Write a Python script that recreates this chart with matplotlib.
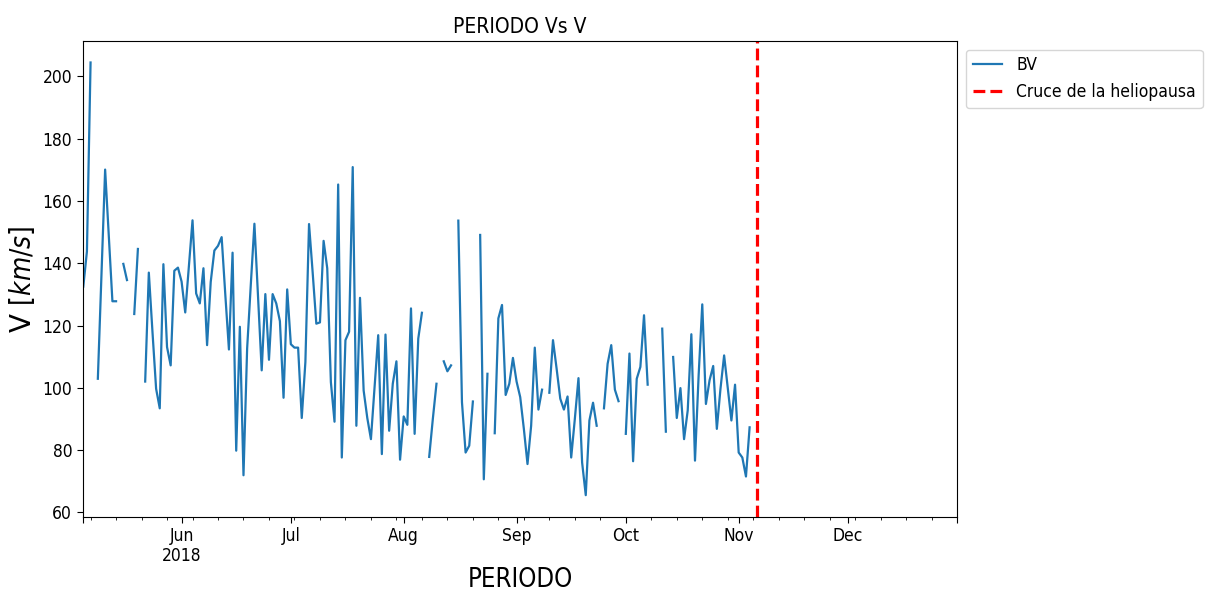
#!/usr/bin/python

import pandas as pd
import numpy as np
import matplotlib
matplotlib.use('Agg')
import matplotlib.pyplot as plt

nan = np.nan

START = '2018-05-05'
END = '2018-12-31'
HELIOPAUSA = '2018-11-06'

# velocidad diaria BV [km/s], nan = dia sin dato
bv = [132.5, 143.8, 204.5, nan, 102.9, 137, 170.1, 149, 127.8, 127.8,
      nan, 139.8, 134.6, nan, 123.7, 144.6, nan, 102, 137, 118,
      99.7, 93.4, 139.7, 113.1, 107.2, 137.6, 138.6, 134.1, 124.2, 139,
      153.8, 130.3, 127.1, 138.4, 113.7, 134, 144.1, 145.6, 148.4, 130,
      112.3, 143.4, 79.8, 119.6, 71.9, 112.6, 133, 152.7, 129, 105.6,
      130.1, 109, 130.1, 127.1, 121.4, 96.8, 131.6, 114, 112.9, 112.9,
      90.3, 108.3, 152.6, 137, 120.6, 121, 147.2, 138.4, 101.8, 89.1,
      165.3, 77.6, 115.3, 118, 170.9, 87.8, 128.9, 99.1, 90.3, 83.5,
      100, 116.9, 78.7, 117.1, 86.2, 101.3, 108.5, 76.9, 90.8, 88.1,
      125.5, 85.2, 115.8, 124.1, nan, 77.8, 90, 101.3, nan, 108.5,
      105.3, 107.2, nan, 153.7, 95.4, 79.2, 81.4, 95.6, nan, 149.1,
      70.6, 104.5, nan, 85.4, 122.3, 126.6, 97.7, 101.3, 109.6, 102,
      97, 86.8, 75.5, 87.8, 112.9, 93, 99.4, nan, 98.4, 115.3,
      106.1, 96.5, 93, 97.2, 77.6, 90, 103.1, 76, 65.5, 89.5,
      95.2, 87.8, nan, 93.4, 107.7, 113.7, 99.4, 95.7, nan, 85.2,
      111, 76.4, 102.9, 106.7, 123.3, 101, nan, nan, nan, 119,
      85.9, nan, 109.9, 90.3, 99.9, 83.5, 92.7, 117.2, 76.6, 104,
      126.8, 94.8, 102.4, 107, 86.8, 99.7, 110.4, 100, 89.5, 101,
      79.2, 77.6, 71.5, 87.3]


def get_data():
    dates = pd.date_range(START, END, freq='D')
    values = bv + [nan] * (len(dates) - len(bv))
    return pd.DataFrame({'BV': values}, index=dates)


def main():
    plt.rcParams['font.family'] = 'DejaVu Sans'
    plt.rcParams['font.stretch'] = 'condensed'
    plt.rcParams['xtick.labelsize'] = 12.5
    plt.rcParams['ytick.labelsize'] = 12.5
    plt.rcParams['xtick.major.size'] = 4.5
    plt.rcParams['ytick.major.size'] = 4.5
    plt.rcParams['xtick.major.pad'] = 2.5

    table = get_data()

    fig, ax = plt.subplots(figsize=(12.07, 5.92), dpi=100)
    fig.subplots_adjust(left=0.069, right=0.793, top=0.931, bottom=0.127)

    table.plot(ax=ax, lw=1.6)
    ax.axvline(HELIOPAUSA, color='red', linestyle='--', lw=2.3,
               label='Cruce de la heliopausa')

    plt.title('PERIODO Vs V', fontsize=15)
    plt.xlabel('PERIODO', fontsize=18.5, labelpad=1.5)
    plt.ylabel('V $[km/s]$', fontsize=20, fontstretch='normal')
    plt.legend(loc='upper left', bbox_to_anchor=(1.0, 1.0), fontsize=12.5,
               handlelength=1.7)
    plt.savefig('out.png', dpi=100)


if __name__ == '__main__':
    main()
